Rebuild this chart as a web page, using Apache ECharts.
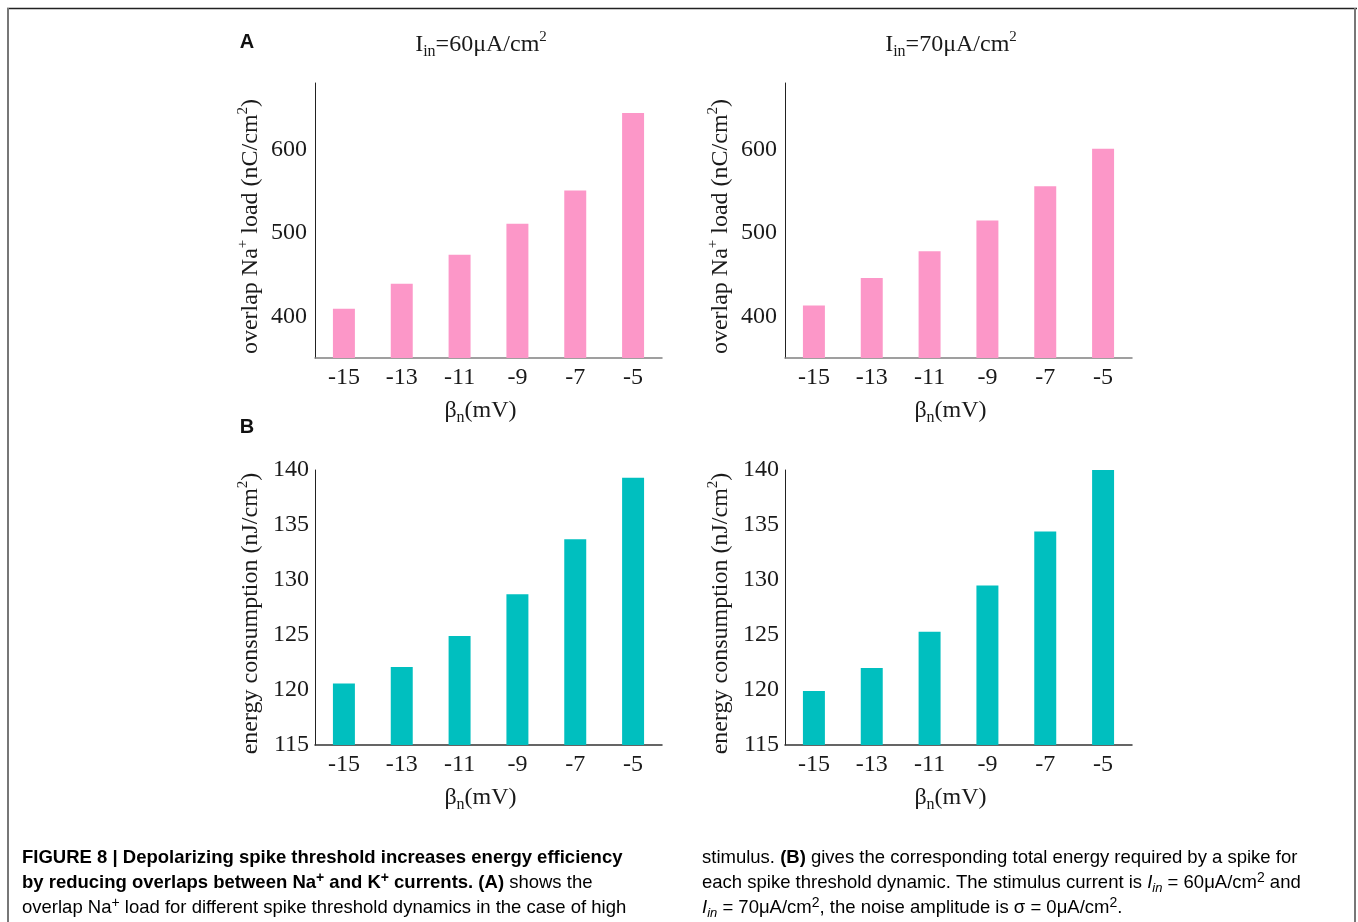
<!DOCTYPE html>
<html>
<head>
<meta charset="utf-8">
<script src="https://cdn.jsdelivr.net/npm/echarts@6/dist/echarts.min.js"></script>
<style>
  html, body { margin: 0; padding: 0; background: #fff; }
  #chart { width: 1358px; height: 922px; }
</style>
</head>
<body>
<div id="chart"></div>
<script>
// β_n values (mV) on the horizontal axis
const categories = ['-15', '-13', '-11', '-9', '-7', '-5'];

// Overlap Na+ load (nC/cm²) for I_in = 60 and 70 μA/cm²
const naLoad60 = [409, 439, 474, 511, 551, 644];
const naLoad70 = [413, 446, 478, 515, 556, 601];

// Energy consumption (nJ/cm²) for I_in = 60 and 70 μA/cm²
const energy60 = [120.6, 122.1, 124.9, 128.7, 133.7, 139.3];
const energy70 = [119.9, 122.0, 125.3, 129.5, 134.4, 140.0];

// Labelled ticks on the Na+ load axis
const naTicks = [400, 500, 600];

const SERIF = '"Liberation Serif", "Times New Roman", serif';
const SANS = '"Liberation Sans", Arial, sans-serif';
const PINK = '#fc97c8';
const TEAL = '#00bfbf';
const INK = '#1a1a1a';

const serifRich = {
  n: { fontFamily: SERIF, fontSize: 24, fontWeight: 'normal', color: INK, lineHeight: 30 },
  sup: { fontFamily: SERIF, fontSize: 15, fontWeight: 'normal', color: INK, lineHeight: 15, verticalAlign: 'top' },
  sub: { fontFamily: SERIF, fontSize: 16, fontWeight: 'normal', color: INK, lineHeight: 16, verticalAlign: 'bottom' }
};

const grids = [
  { left: 315, top: 83, width: 347, height: 275 },
  { left: 785, top: 83, width: 347, height: 275 },
  { left: 315, top: 470, width: 347, height: 275 },
  { left: 785, top: 470, width: 347, height: 275 }
];

function xAxisFor(gridIndex, lineColor) {
  return {
    type: 'category',
    gridIndex: gridIndex,
    data: categories,
    boundaryGap: true,
    axisTick: { show: false },
    axisLine: { lineStyle: { color: lineColor, width: 1.5 } },
    axisLabel: { fontFamily: SERIF, fontSize: 24, color: INK, margin: 8 },
    name: '{n|β}{sub|n}{n|(mV)}',
    nameLocation: 'middle',
    nameGap: 38,
    nameTextStyle: { rich: serifRich, padding: [0, 16, 0, 0] }
  };
}

function naAxis(gridIndex) {
  return {
    type: 'value',
    gridIndex: gridIndex,
    min: 350,
    max: 680,
    splitLine: { show: false },
    axisTick: { show: false },
    axisLine: { show: true, lineStyle: { color: '#222', width: 1 } },
    axisLabel: { customValues: naTicks, fontFamily: SERIF, fontSize: 24, color: INK, margin: 8 },
    name: '{n|overlap Na}{sup|+}{n| load (nC/cm}{sup|2}{n|)}',
    nameLocation: 'middle',
    nameGap: 49,
    nameTextStyle: { rich: serifRich, padding: [0, 12, 0, 0] }
  };
}

function energyAxis(gridIndex) {
  return {
    type: 'value',
    gridIndex: gridIndex,
    min: 115,
    max: 140,
    interval: 5,
    splitLine: { show: false },
    axisTick: { show: false },
    axisLine: { show: true, lineStyle: { color: '#222', width: 1 } },
    axisLabel: { fontFamily: SERIF, fontSize: 24, color: INK, margin: 6 },
    name: '{n|energy consumption (nJ/cm}{sup|2}{n|)}',
    nameLocation: 'middle',
    nameGap: 49,
    nameTextStyle: { rich: serifRich, padding: [0, 12, 0, 0] }
  };
}

function barSeries(idx, values, color) {
  return {
    type: 'bar',
    xAxisIndex: idx,
    yAxisIndex: idx,
    data: values,
    barWidth: '38%',
    itemStyle: { color: color },
    silent: true
  };
}

const CAP = 18.5;
const captionRich = {
  b: { fontFamily: SANS, fontSize: CAP, fontWeight: 'bold', color: '#111', lineHeight: 24 },
  bsup: { fontFamily: SANS, fontSize: 14, fontWeight: 'bold', color: '#111', lineHeight: 14, verticalAlign: 'top' },
  n: { fontFamily: SANS, fontSize: CAP, color: '#222', lineHeight: 24 },
  sup: { fontFamily: SANS, fontSize: 14, color: '#222', lineHeight: 14, verticalAlign: 'top' },
  i: { fontFamily: SANS, fontSize: CAP, fontStyle: 'italic', color: '#222', lineHeight: 24 },
  isub: { fontFamily: SANS, fontSize: 13, fontStyle: 'italic', color: '#222', lineHeight: 13, verticalAlign: 'bottom' }
};

const captionLines = [
  { x: 22, y: 858, text: '{b|FIGURE 8 | Depolarizing spike threshold increases energy efficiency}' },
  { x: 22, y: 883, text: '{b|by reducing overlaps between Na}{bsup|+}{b| and K}{bsup|+}{b| currents. (A)}{n| shows the}' },
  { x: 22, y: 908, text: '{n|overlap Na}{sup|+}{n| load for different spike threshold dynamics in the case of high}' },
  { x: 702, y: 858, text: '{n|stimulus. }{b|(B)}{n| gives the corresponding total energy required by a spike for}' },
  { x: 702, y: 883, text: '{n|each spike threshold dynamic. The stimulus current is }{i|I}{isub|in}{n| = 60μA/cm}{sup|2}{n| and}' },
  { x: 702, y: 908, text: '{i|I}{isub|in}{n| = 70μA/cm}{sup|2}{n|, the noise amplitude is σ = 0μA/cm}{sup|2}{n|.}' }
];

const graphics = [
  // figure frame
  { type: 'line', shape: { x1: 7, y1: 8.5, x2: 1357, y2: 8.5 }, style: { stroke: '#222', lineWidth: 1.5 } },
  { type: 'line', shape: { x1: 8, y1: 8, x2: 8, y2: 922 }, style: { stroke: '#777', lineWidth: 2 } },
  { type: 'line', shape: { x1: 1355, y1: 8, x2: 1355, y2: 922 }, style: { stroke: '#777', lineWidth: 2 } },
  // panel letters
  { type: 'text', style: { x: 247, y: 42, text: 'A', font: 'bold 20px ' + SANS, fill: '#111', align: 'center', verticalAlign: 'middle' } },
  { type: 'text', style: { x: 247, y: 427, text: 'B', font: 'bold 20px ' + SANS, fill: '#111', align: 'center', verticalAlign: 'middle' } }
];
captionLines.forEach(function (ln) {
  graphics.push({
    type: 'text',
    style: { x: ln.x, y: ln.y, text: ln.text, rich: captionRich, align: 'left', verticalAlign: 'middle' }
  });
});

const chart = echarts.init(document.getElementById('chart'), null, { renderer: 'canvas' });
chart.setOption({
  backgroundColor: '#fff',
  animation: false,
  title: [
    { text: '{n|I}{sub|in}{n|=60μA/cm}{sup|2}', left: 476, top: 40, textAlign: 'center', textVerticalAlign: 'middle', textStyle: { fontWeight: 'normal', rich: serifRich } },
    { text: '{n|I}{sub|in}{n|=70μA/cm}{sup|2}', left: 946, top: 40, textAlign: 'center', textVerticalAlign: 'middle', textStyle: { fontWeight: 'normal', rich: serifRich } }
  ],
  grid: grids,
  xAxis: [xAxisFor(0, '#808080'), xAxisFor(1, '#808080'), xAxisFor(2, '#333'), xAxisFor(3, '#333')],
  yAxis: [naAxis(0), naAxis(1), energyAxis(2), energyAxis(3)],
  series: [
    barSeries(0, naLoad60, PINK),
    barSeries(1, naLoad70, PINK),
    barSeries(2, energy60, TEAL),
    barSeries(3, energy70, TEAL)
  ],
  graphic: graphics
});
</script>
</body>
</html>
